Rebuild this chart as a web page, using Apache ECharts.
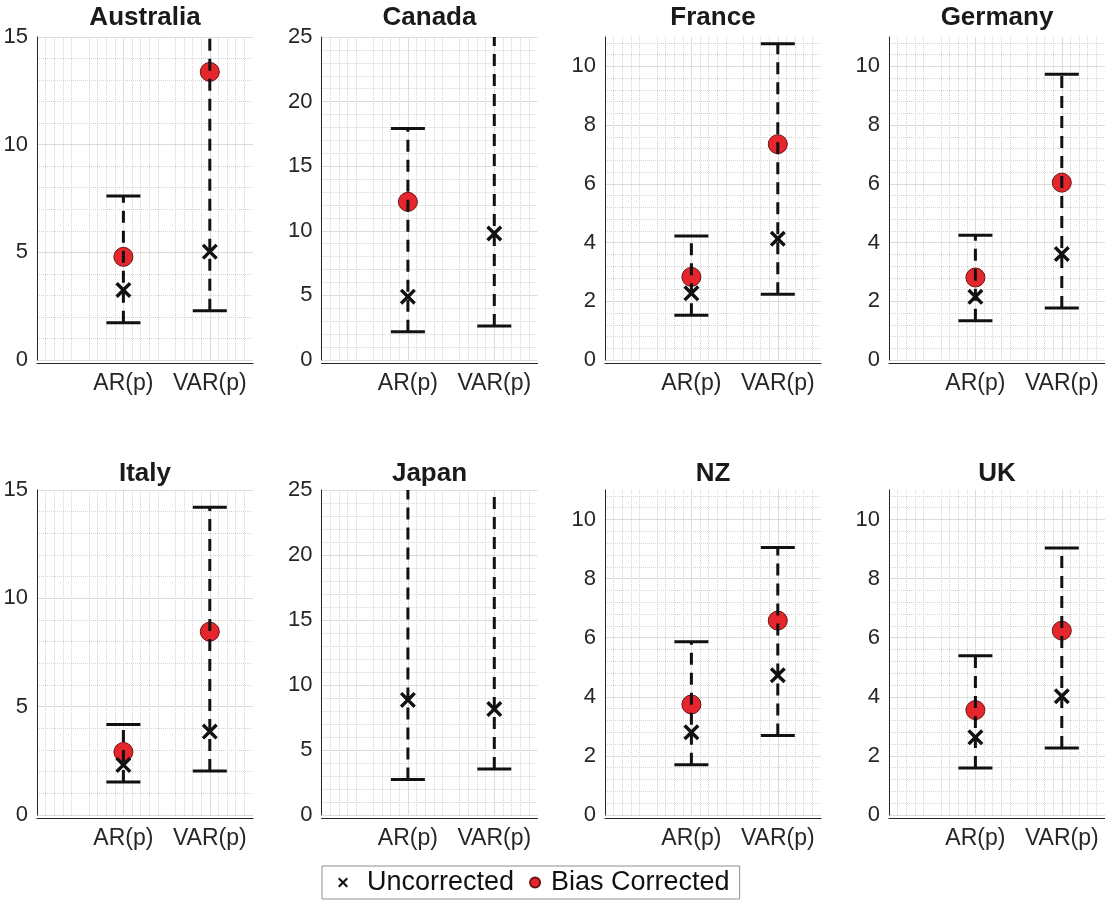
<!DOCTYPE html>
<html>
<head>
<meta charset="utf-8">
<script src="https://cdn.jsdelivr.net/npm/echarts@6/dist/echarts.min.js"></script>
<style>
  html, body { margin: 0; padding: 0; background: #fff; }
  #main { width: 1105px; height: 909px; }
</style>
</head>
<body>
<div id="main"></div>
<script>
// panels and x categories
var countries = ['Australia', 'Canada', 'France', 'Germany', 'Italy', 'Japan', 'NZ', 'UK'];
var models = ['AR(p)', 'VAR(p)'];

// values per panel: [AR(p), VAR(p)], null = not inside the plotted range
var uncorrected   = [[3.25, 5.03], [4.90, 9.79], [2.27, 4.13], [2.15, 3.61], [2.31, 3.85], [8.85, 8.15], [2.80, 4.73], [2.63, 4.02]];
var biasCorrected = [[4.79, 13.38], [12.24, null], [2.83, 7.35], [2.81, 6.04], [2.91, 8.46], [null, null], [3.74, 6.58], [3.55, 6.24]];
var lowerBound    = [[1.73, 2.29], [2.19, 2.63], [1.52, 2.24], [1.34, 1.77], [1.52, 2.03], [2.74, 3.54], [1.70, 2.69], [1.59, 2.27]];
var upperBound    = [[7.62, 16.5], [17.91, 27.5], [4.22, 10.77], [4.25, 9.73], [4.18, 14.20], [26.5, 27.0], [5.86, 9.05], [5.39, 9.04]];

// y axis ranges and ticks
var yMax  = [15, 25, 11, 11, 15, 25, 11, 11];
var yStep = [5, 5, 2, 2, 5, 5, 2, 2];

var FONT = '"Liberation Sans", Arial, Helvetica, sans-serif';
var AXIS_COLOR = '#262626';
var GRID_COLOR = '#dcdcdc';
var MINOR_COLOR = '#d4d4d4';
var XSYMBOL = 'path://M0,1.5L1.5,0L5,3.5L8.5,0L10,1.5L6.5,5L10,8.5L8.5,10L5,6.5L1.5,10L0,8.5L3.5,5Z';

var colLeft = [37, 321.5, 605, 889];
var rowTop = [37, 490];
var rowHeight = [323, 325];
var plotWidth = 216;

var chart = echarts.init(document.getElementById('main'));

/*误差线*/
function renderErrorBar(params, api) {
	var x = api.value(0);
	var lo = api.coord([x, api.value(1)]);
	var hi = api.coord([x, api.value(2)]);
	var halfCap = 17;
	var style = { stroke: '#111', lineWidth: 3 };
	return {
		type: 'group',
		children: [
			{ type: 'line', shape: { x1: lo[0], y1: lo[1], x2: hi[0], y2: hi[1] },
			  style: { stroke: '#111', lineWidth: 3, lineDash: [12, 8] } },
			{ type: 'line', shape: { x1: lo[0] - halfCap, y1: lo[1], x2: lo[0] + halfCap, y2: lo[1] }, style: style },
			{ type: 'line', shape: { x1: hi[0] - halfCap, y1: hi[1], x2: hi[0] + halfCap, y2: hi[1] }, style: style }
		]
	};
}

var grids = [], xAxes = [], yAxes = [], titles = [], series = [];

for (var i = 0; i < countries.length; i++) {
	var col = i % 4, row = Math.floor(i / 4);
	grids.push({
		left: colLeft[col], top: rowTop[row], width: plotWidth, height: rowHeight[row],
		containLabel: false, outerBoundsMode: 'none'
	});
	titles.push({
		text: countries[i],
		left: colLeft[col] + plotWidth / 2,
		top: row === 0 ? 5 : 461,
		textAlign: 'center',
		padding: 0,
		textStyle: { fontFamily: FONT, fontSize: 26, fontWeight: 'bold', color: '#1a1a1a' }
	});
	xAxes.push({
		gridIndex: i, type: 'value', min: 0, max: 2.5, interval: 0.5, offset: 3,
		axisLine: { show: true, onZero: false, lineStyle: { color: AXIS_COLOR, width: 1 } },
		axisTick: { show: false },
		axisLabel: {
			margin: 9, fontSize: 23, color: AXIS_COLOR, fontFamily: FONT,
			formatter: function (v) { return v === 1 ? models[0] : (v === 2 ? models[1] : ''); }
		},
		splitLine: { show: true, showMaxLine: false, lineStyle: { color: [GRID_COLOR, 'rgba(0,0,0,0)'], width: 1 } },
		minorTick: { show: false, splitNumber: 5 },
		minorSplitLine: { show: true, lineStyle: { color: MINOR_COLOR, type: 'dotted', width: 1 } }
	});
	(function (step) {
		yAxes.push({
			gridIndex: i, type: 'value', min: 0, max: yMax[i], interval: step,
			axisLine: { show: true, onZero: false, lineStyle: { color: AXIS_COLOR, width: 1 } },
			axisTick: { show: false },
			axisLabel: {
				margin: 9, fontSize: 22, color: AXIS_COLOR, fontFamily: FONT,
				formatter: function (v) { return v % step === 0 ? String(v) : ''; }
			},
			splitLine: { show: true, showMaxLine: yMax[i] % step === 0, lineStyle: { color: GRID_COLOR, width: 1 } },
			minorTick: { show: false, splitNumber: 5 },
			minorSplitLine: { show: true, lineStyle: { color: MINOR_COLOR, type: 'dotted', width: 1 } }
		});
	})(yStep[i]);

	var barData = [], unData = [], bcData = [];
	for (var m = 0; m < models.length; m++) {
		barData.push([m + 1, lowerBound[i][m], upperBound[i][m]]);
		unData.push([m + 1, uncorrected[i][m]]);
		if (biasCorrected[i][m] !== null) bcData.push([m + 1, biasCorrected[i][m]]);
	}
	series.push({
		name: 'Bias Corrected', type: 'scatter', xAxisIndex: i, yAxisIndex: i,
		symbol: 'circle', symbolSize: 19, z: 2,
		itemStyle: { color: '#e5262c', borderColor: '#6b1212', borderWidth: 1, opacity: 1 },
		emphasis: { disabled: true },
		data: bcData
	});
	series.push({
		name: 'interval', type: 'custom', xAxisIndex: i, yAxisIndex: i, z: 3, clip: true,
		renderItem: renderErrorBar,
		encode: { x: 0, y: [1, 2] },
		data: barData
	});
	series.push({
		name: 'Uncorrected', type: 'scatter', xAxisIndex: i, yAxisIndex: i,
		symbol: XSYMBOL, symbolSize: 16, z: 4,
		itemStyle: { color: '#111', opacity: 1 },
		emphasis: { disabled: true },
		data: unData
	});
}

chart.setOption({
	animation: false,
	backgroundColor: '#fff',
	title: titles,
	grid: grids,
	xAxis: xAxes,
	yAxis: yAxes,
	legend: {
		left: 322, top: 866,
		orient: 'horizontal',
		padding: [3, 10, 3, 16],
		itemGap: 15,
		itemWidth: 10, itemHeight: 10,
		borderColor: '#8f8f8f', borderWidth: 1,
		backgroundColor: '#fff',
		textStyle: { fontFamily: FONT, fontSize: 27, color: '#111' },
		data: [
			{ name: 'Uncorrected', icon: XSYMBOL, textStyle: { padding: [0, 0, 0, 14] } },
			{ name: 'Bias Corrected', icon: 'circle', textStyle: { padding: [0, 0, 0, 6] } }
		]
	},
	series: series
});
</script>
</body>
</html>
